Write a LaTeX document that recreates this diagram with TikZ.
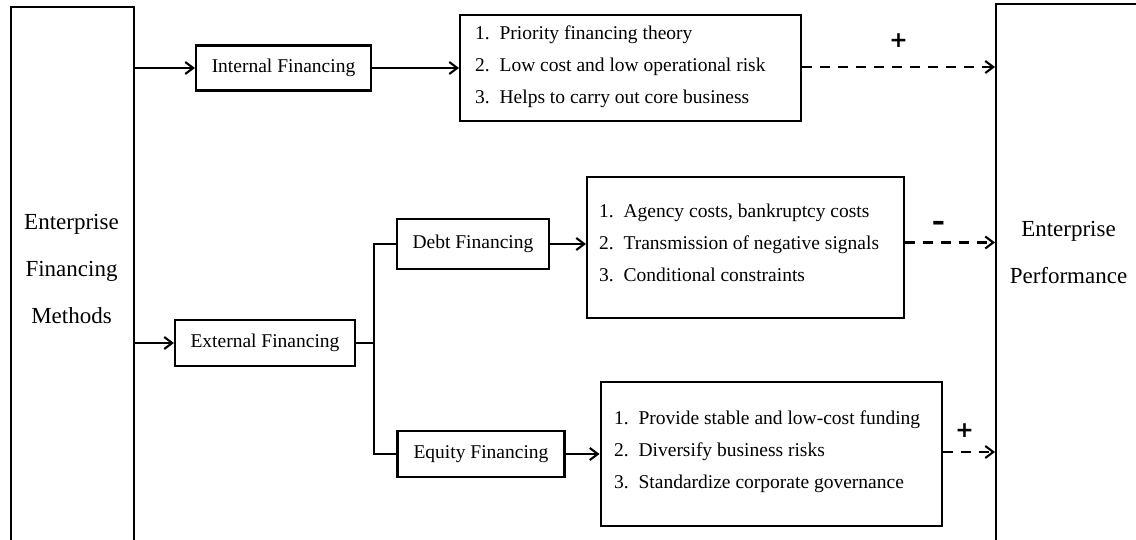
\documentclass[tikz,border=0pt]{standalone}
\usepackage{fontspec}
\setmainfont{Liberation Serif}
\newfontfamily\signfont{DejaVu Sans}
\usepackage{graphicx}
\usetikzlibrary{positioning, arrows.meta}
\newcommand{\numitem}[2]{\makebox[24.5pt][l]{#1}#2}
\tikzset{
>={Straight Barb[length=8pt,width=12pt]}, % open arrow heads
finbox/.style={draw, inner sep=0pt, font=\fontsize{19.5}{23}\selectfont}, % one line boxes
listbox/.style={draw, inner sep=0pt}, % frames round the lists
listtext/.style={anchor=west, align=left, inner sep=0pt, font=\fontsize{19.5}{32}\selectfont}, % the numbered lines
sidebox/.style={draw, anchor=north west, minimum height=560}, % tall blocks at both sides
sidetext/.style={align=center, inner sep=0pt, font=\fontsize{23}{47}\selectfont},
sign/.style={inner sep=0pt, font=\signfont\bfseries\fontsize{22}{22}\selectfont}, % + and - on the effects
link/.style={->},
effect/.style={->, dash pattern=on 10pt off 8pt}, % dashed arrows to performance
}

\begin{document}
\begin{tikzpicture}[x=1pt, y=-1pt, line width=2.1pt]
            \useasboundingbox (0,0) rectangle (1136,540);
            % side blocks
            \node[sidebox, minimum width=123] (methods) at (10,6) {};
            \node[sidetext] (methodstxt) at (71.5,269) {Enterprise\\Financing\\Methods};
            \node[sidebox, minimum width=170] (perf) at (995,3) {};
            \node[sidetext] (perftxt) at (1068.5,252) {Enterprise\\Performance};
            % ways of financing
            \node[finbox, minimum width=175, minimum height=45] (internal) at (283.5,68) {Internal Financing};
            \node[finbox, minimum width=180, minimum height=46] (external) at (265,343) {External Financing};
            \node[finbox, minimum width=152, minimum height=50] (debt) at (473,244) {Debt Financing};
            \node[finbox, minimum width=167, minimum height=46] (equity) at (481,454) {Equity Financing};
            % lists
            \node[listbox, right=87pt of internal, minimum width=341, minimum height=106] (intbox) {};
            \node[listtext] (intlist) at ([xshift=15pt, yshift=1pt]intbox.west)
                {\numitem{1.}{Priority financing theory}\\
                 \numitem{2.}{Low cost and low operational risk}\\
                 \numitem{3.}{Helps to carry out core business}};
            \node[listbox, right=36pt of debt, yshift=-3.5pt, minimum width=317, minimum height=141] (debtbox) {};
            \node[listtext] (debtlist) at ([xshift=12pt, yshift=5pt]debtbox.west)
                {\numitem{1.}{Agency costs, bankruptcy costs}\\
                 \numitem{2.}{Transmission of negative signals}\\
                 \numitem{3.}{Conditional constraints}};
            \node[listbox, right=34pt of equity, minimum width=341, minimum height=144] (eqbox) {};
            \node[listtext] (eqlist) at ([xshift=13.5pt, yshift=2pt]eqbox.west)
                {\numitem{1.}{Provide stable and low-cost funding}\\
                 \numitem{2.}{Diversify business risks}\\
                 \numitem{3.}{Standardize corporate governance}};
            % connectors
            \draw[link] (methods.east |- internal) -- (internal);
            \draw[link] (methods.east |- external) -- (external);
            \draw[link] (internal) -- (intbox);
            \draw (external.east) -- ++(18,0) coordinate (split);
            \draw (debt.west) -| (split) |- (equity.west);
            \draw[link] (debt.east) -- (debt.east -| debtbox.west);
            \draw[link] (equity.east) -- (equity.east -| eqbox.west);
            \draw
                (intbox.east |- intlist) edge[effect] node[sign, yshift=26pt] {+} (intlist -| perf.west)
                (debtbox.east |- debtlist) edge[effect] node[sign, pos=0.37, yshift=17pt] {\scalebox{1.5}[1.15]{-}} (debtlist -| perf.west)
                (eqbox.east |- eqlist) edge[effect] node[sign, pos=0.42, yshift=21pt] {+} (eqlist -| perf.west)
                ;
        \end{tikzpicture}
\end{document}
